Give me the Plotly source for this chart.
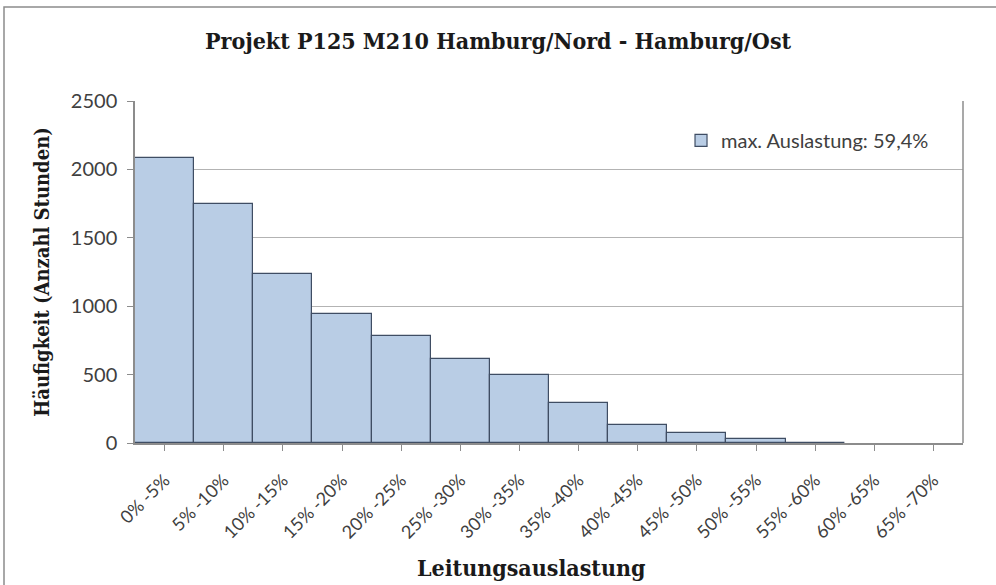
import plotly.graph_objects as go

# Hourly frequency per utilisation band
categories = ["0% -5%", "5% -10%", "10% -15%", "15% -20%", "20% -25%", "25% -30%",
              "30% -35%", "35% -40%", "40% -45%", "45% -50%", "50% -55%", "55% -60%",
              "60% -65%", "65% -70%"]
hours = [2085, 1750, 1235, 943, 780, 616, 500, 295, 132, 71, 29, 3, 0, 0]
series_name = "max. Auslastung: 59,4%"
y_ticks = [0, 500, 1000, 1500, 2000, 2500]

W, H = 996, 585
L, R, T, B = 135, 33, 101, 142
PW, PH = W - L - R, H - T - B
SERIF = "DejaVu Serif Condensed, Liberation Serif, serif"
SANS = "Lato"
TXT = "#404040"

# empty bins get no outline
edge_colors = ["#3F4D63" if v > 0 else "rgba(0,0,0,0)" for v in hours]

fig = go.Figure()
fig.add_trace(go.Bar(
    x=categories, y=hours, name=series_name,
    marker=dict(color="#B9CDE5", line=dict(color=edge_colors, width=1.2)),
    width=1.0,
))

fig.update_layout(
    width=W, height=H,
    margin=dict(l=L, r=R, t=T, b=B, autoexpand=False),
    paper_bgcolor="white", plot_bgcolor="white",
    bargap=0,
    showlegend=True,
    legend=dict(x=0.965, y=0.885, xanchor="right", yanchor="middle",
                font=dict(family=SANS, size=20, color=TXT),
                bgcolor="rgba(0,0,0,0)", itemwidth=30),
    title=dict(text="<b>Projekt P125 M210 Hamburg/Nord - Hamburg/Ost</b>",
               x=0.5, xref="container", xanchor="center", y=1 - 41 / H, yanchor="middle",
               font=dict(family=SERIF, size=23, color="#1a1a1a")),
    font=dict(family=SANS, size=20, color=TXT),
)

fig.update_xaxes(
    type="category", tickangle=-45, showline=True, linecolor="#8c8c8c", linewidth=1.5,
    ticks="outside", ticklen=6, tickcolor="#8c8c8c", ticklabelstandoff=12,
    tickfont=dict(family=SANS, size=18, color=TXT),
    showgrid=False, automargin=False,
)
fig.update_yaxes(
    range=[0, 2500], tickvals=y_ticks, showline=True, linecolor="#8c8c8c", linewidth=1.5,
    ticks="outside", ticklen=6, tickcolor="#8c8c8c", ticklabelstandoff=6,
    showgrid=True, gridcolor="#b3b3b3", gridwidth=1.2, zeroline=False,
    tickfont=dict(family=SANS, size=20, color=TXT),
    title=dict(text="<b>Häufigkeit (Anzahl Stunden)</b>",
               font=dict(family=SERIF, size=20, color="#1a1a1a"), standoff=16),
    automargin=False,
)

# x-axis caption
fig.add_annotation(text="<b>Leitungsauslastung</b>", xref="paper", yref="paper",
                   x=(531 - L) / PW, y=-(567 - T - PH) / PH, xanchor="center", yanchor="middle",
                   showarrow=False, font=dict(family=SERIF, size=23, color="#1a1a1a"))

# plot-area right border
fig.add_shape(type="line", xref="paper", yref="paper", x0=1, x1=1, y0=0, y1=1,
              line=dict(color="#8c8c8c", width=1.5))
# outer chart frame
fig.add_shape(type="rect", xref="paper", yref="paper",
              x0=(4 - L) / PW, x1=(1000 - L) / PW,
              y0=(H - B - 600) / PH, y1=(H - B - 7) / PH,
              line=dict(color="#8c8c8c", width=1.5), layer="below")

fig.write_html("out.html")
